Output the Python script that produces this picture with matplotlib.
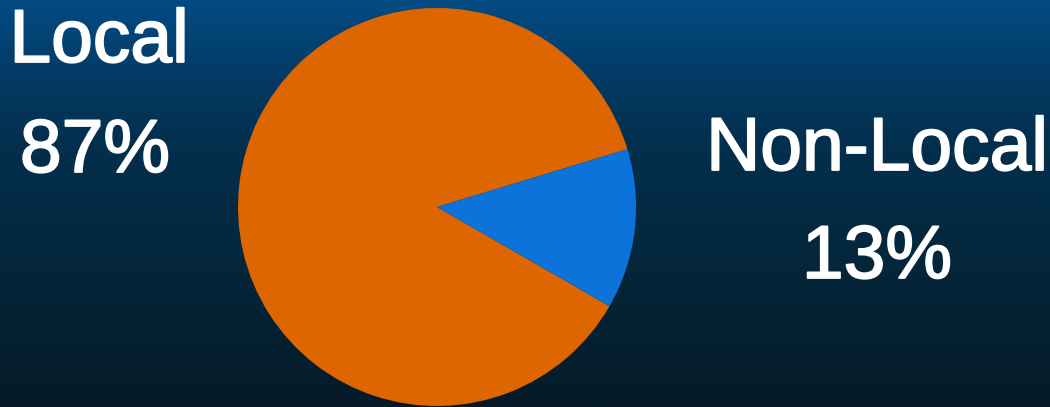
import numpy as np
from matplotlib import pyplot as plt
from matplotlib import patheffects
from matplotlib.colors import LinearSegmentedColormap

# slices of the pie
labels = ['Local', 'Non-Local']
shares = [87, 13]
colors = ['#DD6600', '#0B73D9']

plt.rcParams['font.family'] = ['Liberation Sans', 'DejaVu Sans']

fig = plt.figure(figsize=(10.5, 4.07), dpi=100)
ax = fig.add_axes([0, 0, 1, 1])

# dark blue vertical gradient background
bg = LinearSegmentedColormap.from_list(
    'bg', ['#061A28', '#03263A', '#03304F', '#044A83'])
grad = np.linspace(0, 1, 256).reshape(-1, 1)
ax.imshow(grad, cmap=bg, aspect='auto', origin='lower',
          extent=[0, 1050, 0, 407], zorder=0)

ax.pie(shares, colors=colors, startangle=16.9, center=(437, 200),
       radius=199, frame=True, wedgeprops={'linewidth': 0})
ax.set_xlim(0, 1050)
ax.set_ylim(0, 407)
ax.axis('off')

# labels with percentages (a thin white stroke makes the letters a bit heavier)
fx = [patheffects.withStroke(linewidth=1.3, foreground='white')]
ax.text(99, 345, labels[0], color='white', fontsize=54, ha='center', va='baseline', path_effects=fx)
ax.text(95, 235, '{}%'.format(shares[0]), color='white', fontsize=54, ha='center', va='baseline', path_effects=fx)
ax.text(877, 237, labels[1], color='white', fontsize=54, ha='center', va='baseline', path_effects=fx)
ax.text(877, 129, '{}%'.format(shares[1]), color='white', fontsize=54, ha='center', va='baseline', path_effects=fx)

fig.savefig('out.png', dpi=100)
